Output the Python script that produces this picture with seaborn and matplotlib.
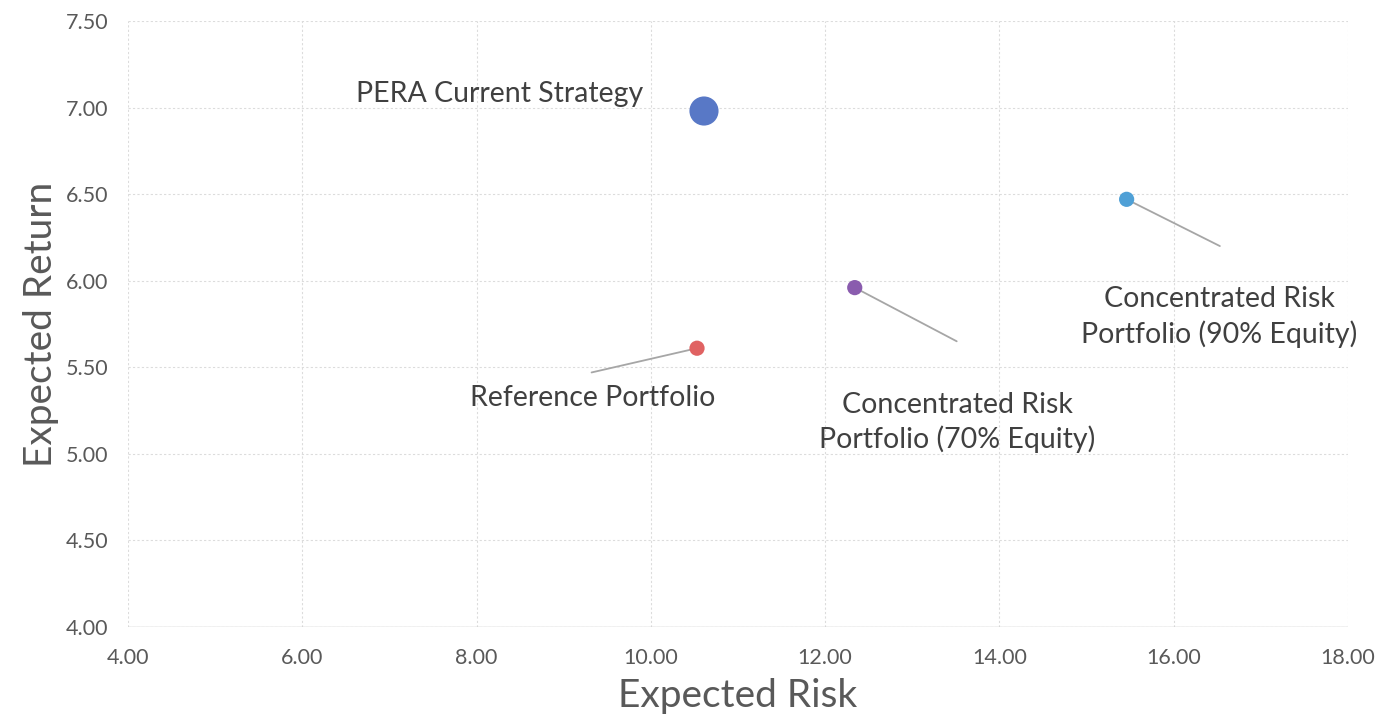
import pandas as pd
import numpy as np
import matplotlib
matplotlib.use('Agg')
import matplotlib.pyplot as plt
import seaborn as sns

# 데이터
portfolios = ['PERA Current Strategy', 'Reference Portfolio',
              'Concentrated Risk\nPortfolio (70% Equity)',
              'Concentrated Risk\nPortfolio (90% Equity)']
expected_risk = [10.61, 10.53, 12.34, 15.46]
expected_return = [6.98, 5.61, 5.96, 6.47]
point_colors = ['#5878c6', '#e06262', '#8a5cae', '#4fa0d6']
point_sizes = [440, 120, 120, 120]

# 라벨 위치 (데이터 좌표)
label_x = [8.27, 9.33, 13.52, 16.52]
label_y = [7.08, 5.32, 5.18, 5.79]
# 연결선 끝점
leader_x = [None, 9.32, 13.51, 16.53]
leader_y = [None, 5.47, 5.65, 6.20]

x_ticks = [4, 6, 8, 10, 12, 14, 16, 18]
y_ticks = [4.0, 4.5, 5.0, 5.5, 6.0, 6.5, 7.0, 7.5]

sns.set_style('white')
plt.rcParams['font.family'] = ['Lato', 'DejaVu Sans']

df = pd.DataFrame({'risk': expected_risk, 'ret': expected_return, 'name': portfolios})

fig = plt.figure(figsize=(13.79, 7.21), dpi=100)
ax = fig.add_axes([0.0928, 0.1304, 0.8847, 0.8405])

# 연결선
for i in range(len(portfolios)):
    if leader_x[i] is not None:
        ax.plot([expected_risk[i], leader_x[i]], [expected_return[i], leader_y[i]],
                color='#a6a6a6', lw=1.3, zorder=2)

sns.scatterplot(data=df, x='risk', y='ret', hue='name', size='name',
                palette=dict(zip(portfolios, point_colors)),
                sizes=dict(zip(portfolios, point_sizes)),
                linewidth=0, legend=False, ax=ax, zorder=3)

for i, name in enumerate(portfolios):
    ax.text(label_x[i], label_y[i], name, ha='center', va='center',
            fontsize=20.5, color='#404040', linespacing=1.35)

ax.set_xlim(4, 18)
ax.set_ylim(4, 7.5)
ax.set_xticks(x_ticks)
ax.set_yticks(y_ticks)
ax.set_xticklabels([f'{v:.2f}' for v in x_ticks])
ax.set_yticklabels([f'{v:.2f}' for v in y_ticks])
ax.tick_params(axis='x', length=0, labelsize=15.5, colors='#595959', pad=15)
ax.tick_params(axis='y', length=0, labelsize=15.5, colors='#595959', pad=14)
ax.grid(True, color='#dcdcdc', lw=0.8, ls=(0, (2, 2)))
for s in ax.spines.values():
    s.set_visible(False)
ax.axhline(4, color='#bfbfbf', lw=1)

ax.set_xlabel('Expected Risk', fontsize=28, color='#595959', labelpad=7)
ax.set_ylabel('Expected Return', fontsize=28, color='#595959', labelpad=5)

plt.savefig('out.png', dpi=100)
